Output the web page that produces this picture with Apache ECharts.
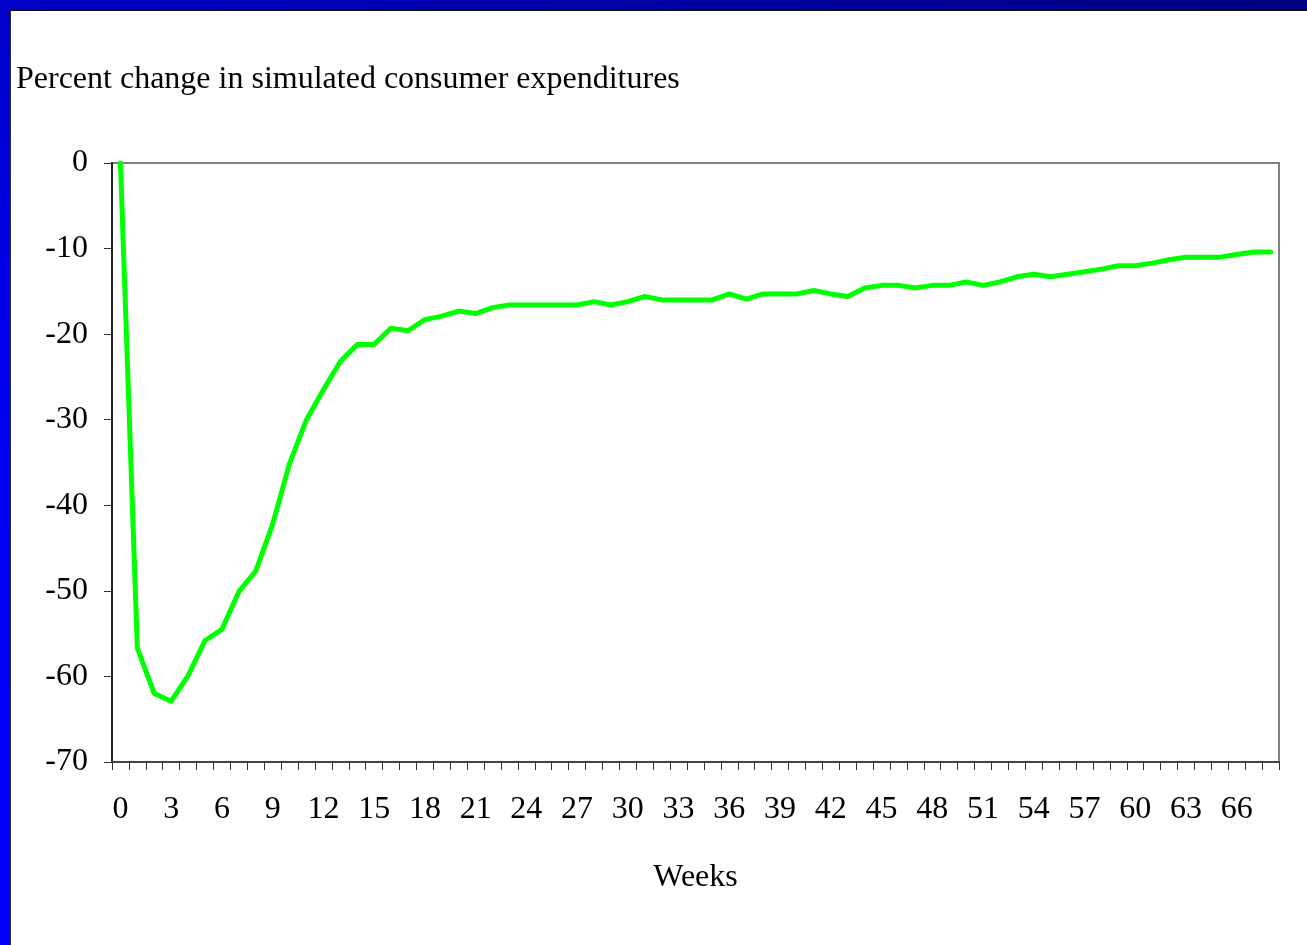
<!DOCTYPE html>
<html>
<head>
<meta charset="utf-8">
<script src="https://cdn.jsdelivr.net/npm/echarts@6/dist/echarts.min.js"></script>
<style>
html,body{margin:0;padding:0;background:#fff;}
#chart{width:1307px;height:945px;}
</style>
</head>
<body>
<div id="chart"></div>
<script>
var titleText = 'Percent change in simulated consumer expenditures';
var xName = 'Weeks';
var weeks = [];
for (var w = 0; w <= 68; w++) weeks.push(String(w));
var yTicks = [0, -10, -20, -30, -40, -50, -60, -70];
var expenditureChange = [
  0, -56.7, -62.0, -62.9, -59.9, -55.8, -54.5, -50.1, -47.7, -42.2,
  -35.1, -30.0, -26.5, -23.2, -21.2, -21.2, -19.3, -19.6, -18.3, -17.9,
  -17.3, -17.6, -16.9, -16.6, -16.6, -16.6, -16.6, -16.6, -16.2, -16.6,
  -16.2, -15.6, -16.0, -16.0, -16.0, -16.0, -15.3, -15.9, -15.3, -15.3,
  -15.3, -14.9, -15.3, -15.6, -14.6, -14.3, -14.3, -14.6, -14.3, -14.3,
  -13.9, -14.3, -13.9, -13.3, -13.0, -13.3, -13.0, -12.7, -12.4, -12.0,
  -12.0, -11.7, -11.3, -11.0, -11.0, -11.0, -10.7, -10.4, -10.4
];

var chart = echarts.init(document.getElementById('chart'));
var serif = '"Liberation Serif", "Times New Roman", serif';
chart.setOption({
  backgroundColor: '#ffffff',
  animation: false,
  title: {
    text: titleText,
    left: 11,
    top: 59,
    textStyle: { fontFamily: serif, fontSize: 32, fontWeight: 'normal', color: '#000' }
  },
  graphic: [
    { type: 'rect', shape: { x: 0, y: 0, width: 1307, height: 10 }, z: 100,
      style: { fill: new echarts.graphic.LinearGradient(0, 0, 1, 0, [
        { offset: 0, color: '#0000c8' }, { offset: 1, color: '#000080' }]) } },
    { type: 'rect', shape: { x: 0, y: 0, width: 10, height: 945 }, z: 100,
      style: { fill: new echarts.graphic.LinearGradient(0, 0, 0, 1, [
        { offset: 0, color: '#0000c8' }, { offset: 0.4, color: '#0000f0' }, { offset: 1, color: '#0000ff' }]) } },
    { type: 'rect', shape: { x: 10, y: 10, width: 1297, height: 1 }, z: 100, style: { fill: '#111' } },
    { type: 'rect', shape: { x: 10, y: 10, width: 1, height: 935 }, z: 100, style: { fill: '#333' } }
  ],
  grid: {
    left: 112, top: 163, width: 1167, height: 599,
    show: true, borderColor: '#808080', borderWidth: 2, backgroundColor: 'transparent'
  },
  xAxis: {
    type: 'category',
    data: weeks,
    boundaryGap: true,
    name: xName,
    nameLocation: 'middle',
    nameGap: 100,
    nameTextStyle: { fontFamily: serif, fontSize: 32, color: '#000' },
    axisLine: { show: true, onZero: false, lineStyle: { color: '#444', width: 2 } },
    axisTick: { show: true, interval: 0, length: 8, lineStyle: { color: '#333', width: 1 } },
    axisLabel: { interval: 2, margin: 32, fontFamily: serif, fontSize: 32, color: '#000' },
    splitLine: { show: false }
  },
  yAxis: {
    type: 'value',
    min: yTicks[yTicks.length - 1],
    max: yTicks[0],
    interval: 10,
    axisLine: { show: true, lineStyle: { color: '#222', width: 2 } },
    axisTick: { show: true, length: 8, lineStyle: { color: '#333', width: 1 } },
    axisLabel: { margin: 24, fontFamily: serif, fontSize: 32, color: '#000' },
    splitLine: { show: false }
  },
  series: [{
    type: 'line',
    data: expenditureChange,
    symbol: 'none',
    smooth: false,
    lineStyle: { color: '#00ff00', width: 5, join: 'round', cap: 'round' },
    itemStyle: { color: '#00ff00' }
  }]
});
</script>
</body>
</html>
